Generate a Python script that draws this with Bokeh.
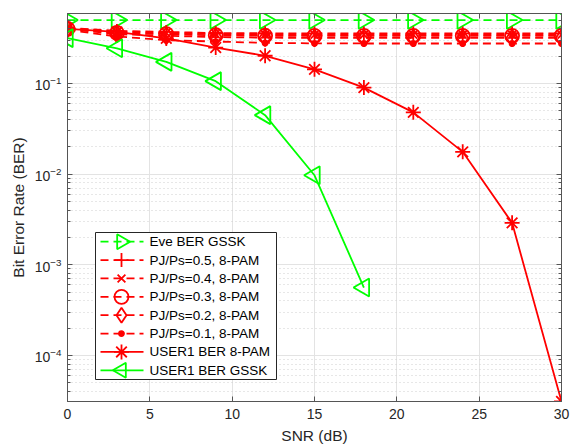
import math
from bokeh.plotting import figure
from bokeh.models import (Range1d, FixedTicker, LinearAxis, LogAxis, LinearScale,
                          CustomJSTickFormatter)
from bokeh.core.properties import value
from bokeh.embed import file_html
from bokeh.resources import INLINE

# ---------------- data ----------------
snr = [0, 3, 6, 9, 12, 15, 18, 21, 24, 27, 30]
eve_gssk = [0.5, 0.5, 0.5, 0.5, 0.5, 0.5, 0.5, 0.5, 0.5, 0.5, 0.5]
pj05 = [0.41, 0.38, 0.37, 0.36, 0.358, 0.356, 0.356, 0.356, 0.356, 0.356, 0.356]
pj04 = [0.41, 0.37, 0.36, 0.35, 0.346, 0.345, 0.345, 0.345, 0.345, 0.345, 0.345]
pj03 = [0.40, 0.36, 0.35, 0.34, 0.336, 0.335, 0.335, 0.335, 0.335, 0.335, 0.335]
pj02 = [0.40, 0.35, 0.335, 0.325, 0.32, 0.318, 0.318, 0.318, 0.318, 0.318, 0.318]
pj01 = [0.39, 0.33, 0.30, 0.29, 0.28, 0.277, 0.276, 0.276, 0.276, 0.276, 0.276]
user1_pam = [0.40, 0.37, 0.314, 0.249, 0.202, 0.143, 0.090, 0.048, 0.0176, 0.0029, 3.1e-5]
snr_gssk = [0, 3, 6, 9, 12, 15, 18]
user1_gssk = [0.316, 0.244, 0.173, 0.106, 0.0447, 0.0097, 0.00056]

x_ticks = [0, 5, 10, 15, 20, 25, 30]
y_ticks = [1e-4, 1e-3, 1e-2, 1e-1]
y_minor = [m * 10.0 ** e for e in (-5, -4, -3, -2, -1) for m in range(2, 10)]

labels = ["Eve BER GSSK", "PJ/Ps=0.5, 8-PAM", "PJ/Ps=0.4, 8-PAM", "PJ/Ps=0.3, 8-PAM",
          "PJ/Ps=0.2, 8-PAM", "PJ/Ps=0.1, 8-PAM", "USER1 BER 8-PAM", "USER1 BER GSSK"]

GREEN = "#00ff00"
RED = "#ff0000"
AX = "#262626"
FONT = "Liberation Sans"
LW = 1.8
DASH = "8 5"

# style per series: (color, dash, marker, size, angle, fill)
styles = [
    (GREEN, DASH, "triangle", 18, -math.pi / 2, None),
    (RED, DASH, "cross", 14, 0.0, None),
    (RED, DASH, "x", 11, 0.0, None),
    (RED, DASH, "circle", 14, 0.0, None),
    (RED, DASH, "diamond", 17, 0.0, None),
    (RED, DASH, "circle", 5, 0.0, RED),
    (RED, "solid", "asterisk", 15, 0.0, None),
    (GREEN, "solid", "triangle", 18, math.pi / 2, None),
]
series_x = [snr, snr, snr, snr, snr, snr, snr, snr_gssk]
series_y = [eve_gssk, pj05, pj04, pj03, pj02, pj01, user1_pam, user1_gssk]

FL, FR, FT, FB = 67, 10, 13, 47
W, H = 571, 448
FW, FH = W - FL - FR, H - FT - FB

p = figure(width=W, height=H, y_axis_type="log",
           x_range=Range1d(0, 30), y_range=Range1d(3.1e-5, 0.591),
           output_backend="svg", toolbar_location=None,
           min_border_left=FL, min_border_right=FR, min_border_top=FT, min_border_bottom=FB)
p.background_fill_color = "white"
p.border_fill_color = "white"
p.outline_line_color = "#555555"
p.outline_line_width = 1

# axes
xax = p.xaxis[0]
yax = p.yaxis[0]
xax.ticker = FixedTicker(ticks=x_ticks)
yax.ticker = FixedTicker(ticks=y_ticks, minor_ticks=y_minor)
for ax in (xax, yax):
    ax.axis_line_color = "#555555"
    ax.major_tick_line_color = "#555555"
    ax.minor_tick_line_color = "#555555"
    ax.major_tick_in = 5
    ax.major_tick_out = 0
    ax.minor_tick_in = 3
    ax.minor_tick_out = 0
    ax.major_label_text_font = FONT
    ax.major_label_text_font_size = "14px"
    ax.major_label_text_color = AX
    ax.axis_label_text_font = FONT
    ax.axis_label_text_font_size = "15.5px"
    ax.axis_label_text_font_style = "normal"
    ax.axis_label_text_color = AX
xax.minor_tick_line_color = None
xax.axis_label = "SNR (dB)"
xax.major_label_standoff = 7
xax.axis_label_standoff = 5
yax.axis_label = "Bit Error Rate (BER)"
yax.major_label_standoff = 6
yax.axis_label_standoff = 5

blank = CustomJSTickFormatter(code="return ''")
top = LinearAxis(ticker=FixedTicker(ticks=x_ticks), formatter=blank,
                 major_tick_in=5, major_tick_out=0, minor_tick_line_color=None,
                 axis_line_color="#555555", major_tick_line_color="#555555",
                 major_label_standoff=0)
right = LogAxis(ticker=FixedTicker(ticks=y_ticks, minor_ticks=y_minor), formatter=blank,
                major_tick_in=5, major_tick_out=0, minor_tick_in=3, minor_tick_out=0,
                axis_line_color="#555555", major_tick_line_color="#555555",
                minor_tick_line_color="#555555", major_label_standoff=0)
p.add_layout(top, "above")
p.add_layout(right, "right")

# grids
p.xgrid.ticker = FixedTicker(ticks=x_ticks)
p.xgrid.grid_line_color = "#e3e3e3"
p.ygrid.ticker = FixedTicker(ticks=y_ticks, minor_ticks=y_minor)
p.ygrid.grid_line_color = "#e3e3e3"
p.ygrid.minor_grid_line_color = "#cfcfcf"
p.ygrid.minor_grid_line_dash = "1 3"

# data series
for xs, ys, (col, dash, mk, sz, ang, fill) in zip(series_x, series_y, styles):
    p.line(xs, ys, color=col, line_width=LW, line_dash=dash)
    p.scatter(xs, ys, marker=mk, size=sz, angle=ang, fill_color=fill,
              line_color=col, line_width=LW)

# ---------------- legend (drawn in frame pixel space) ----------------
p.extra_x_ranges = {"leg": Range1d(0, FW)}
p.extra_y_ranges = {"leg": Range1d(0, FH)}
p.extra_x_scales = {"leg": LinearScale()}
p.extra_y_scales = {"leg": LinearScale()}
LG_L, LG_R, LG_B, LG_T = 28, 209, 22, 169
ROW = (LG_T - LG_B) / len(labels)
LINE_X0, LINE_X1, MK_X, TXT_X = 33, 76, 54, 82

p.quad(left=[LG_L], right=[LG_R], bottom=[LG_B], top=[LG_T], fill_color="white",
       line_color=AX, line_width=1, x_range_name="leg", y_range_name="leg")
for i, (lab, (col, dash, mk, sz, ang, fill)) in enumerate(zip(labels, styles)):
    yc = LG_T - ROW * (i + 0.5)
    p.line([LINE_X0, LINE_X1], [yc, yc], color=col, line_width=LW, line_dash=dash,
           x_range_name="leg", y_range_name="leg")
    p.scatter([MK_X], [yc], marker=mk, size=min(sz, 15), angle=ang, fill_color=fill,
              line_color=col, line_width=LW, x_range_name="leg", y_range_name="leg")
    p.text([TXT_X], [yc], text=[lab], text_baseline="middle", text_align="left",
           text_font=value(FONT), text_font_size="13.5px", text_color="black",
           x_range_name="leg", y_range_name="leg")

open("out.html", "w").write(file_html(p, INLINE))
